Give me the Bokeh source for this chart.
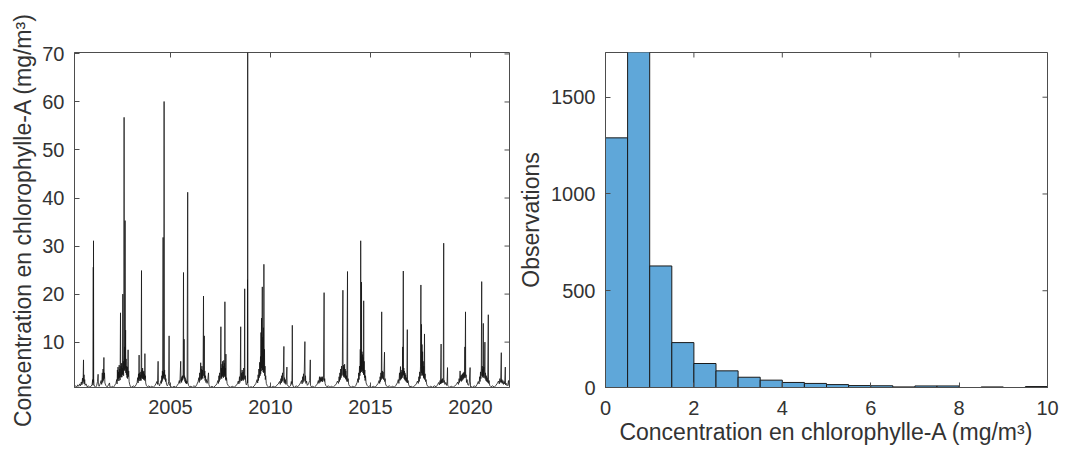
import math
from bokeh.plotting import figure
from bokeh.layouts import row
from bokeh.models import FixedTicker, Range1d
from bokeh.embed import file_html
from bokeh.resources import INLINE

FONT = "Liberation Sans"
TEXT_COLOR = "#333333"
AXIS_COLOR = "#4d4d4d"

# ---------------- time series: (decimal year, chlorophyll-a mg/m3) ----------------
s2000 = [(2000.20,0.7),(2000.26,0.9),(2000.31,0.6),(2000.36,1.1),(2000.41,0.8),(2000.46,1.3),(2000.50,0.9),(2000.54,1.7),(2000.57,1.1),(2000.60,2.5),(2000.62,1.4),(2000.635,3.0),(2000.65,6.3),(2000.66,1.8),(2000.675,3.2),(2000.69,1.3),(2000.71,2.2),(2000.73,1.0),(2000.78,1.3),(2000.83,0.7),(2000.90,0.9),(2000.96,0.6)]
s2001 = [(2001.03,0.8),(2001.08,1.2),(2001.11,2.2),(2001.125,1.0),(2001.14,25.6),(2001.145,1.6),(2001.15,31.1),(2001.16,2.4),(2001.175,1.2),(2001.20,0.8),(2001.26,0.6),(2001.31,1.0),(2001.35,1.8),(2001.38,3.3),(2001.395,1.2),(2001.43,0.8),(2001.48,1.3),(2001.53,2.0),(2001.56,1.2),(2001.59,3.6),(2001.61,1.6),(2001.63,4.4),(2001.645,2.0),(2001.67,6.8),(2001.685,2.4),(2001.70,3.6),(2001.72,1.5),(2001.76,1.0),(2001.82,0.7),(2001.88,0.9),(2001.95,1.5),(2001.97,0.7)]
s2002 = [(2002.03,0.6),(2002.09,0.8),(2002.15,0.6),(2002.21,1.0),(2002.27,1.4),(2002.31,2.2),(2002.33,1.3),(2002.345,4.2),(2002.36,2.0),(2002.375,4.8),(2002.39,2.4),(2002.405,3.8),(2002.42,1.9),(2002.435,5.2),(2002.45,2.6),(2002.465,4.4),(2002.48,2.1),(2002.50,16.1),(2002.51,2.8),(2002.525,5.0),(2002.54,2.7),(2002.555,5.6),(2002.57,2.7),(2002.585,4.6),(2002.60,3.2),(2002.615,20.0),(2002.625,3.4),(2002.64,6.0),(2002.655,3.0),(2002.67,7.5),(2002.68,56.8),(2002.69,4.2),(2002.705,9.0),(2002.72,4.0),(2002.73,35.3),(2002.74,4.5),(2002.755,12.5),(2002.765,3.6),(2002.78,6.5),(2002.795,3.2),(2002.81,5.0),(2002.825,2.6),(2002.84,4.8),(2002.855,2.4),(2002.87,6.0),(2002.88,8.4),(2002.895,2.8),(2002.91,4.0),(2002.93,1.8),(2002.96,1.2),(2002.99,0.8)]
s2003 = [(2003.06,0.6),(2003.13,0.9),(2003.21,0.7),(2003.28,1.1),(2003.33,1.6),(2003.36,2.6),(2003.38,1.5),(2003.40,3.4),(2003.415,2.0),(2003.43,7.3),(2003.44,2.4),(2003.455,3.6),(2003.47,1.9),(2003.485,3.2),(2003.50,2.2),(2003.515,3.8),(2003.53,2.0),(2003.55,24.9),(2003.56,2.6),(2003.575,4.2),(2003.59,2.4),(2003.605,4.6),(2003.62,2.4),(2003.635,3.8),(2003.65,2.2),(2003.665,4.0),(2003.68,2.5),(2003.695,3.4),(2003.71,2.0),(2003.72,7.6),(2003.73,2.4),(2003.745,3.0),(2003.76,1.5),(2003.79,1.0),(2003.85,0.7),(2003.92,0.9),(2003.98,0.6)]
s2004 = [(2004.06,0.8),(2004.14,0.6),(2004.21,0.9),(2004.27,1.3),(2004.32,1.8),(2004.35,1.2),(2004.38,6.0),(2004.395,1.6),(2004.42,1.2),(2004.45,0.9),(2004.49,1.4),(2004.53,2.0),(2004.55,1.4),(2004.565,3.0),(2004.58,1.8),(2004.595,4.0),(2004.61,2.2),(2004.63,31.8),(2004.64,2.6),(2004.655,3.8),(2004.67,2.4),(2004.68,60.1),(2004.69,3.0),(2004.705,4.2),(2004.72,2.2),(2004.735,3.2),(2004.75,1.8),(2004.77,2.4),(2004.80,1.2),(2004.84,0.9),(2004.88,1.2),(2004.91,1.8),(2004.93,11.3),(2004.94,1.4),(2004.97,0.9)]
s2005 = [(2005.03,0.7),(2005.10,0.6),(2005.18,0.8),(2005.26,0.6),(2005.34,1.0),(2005.40,1.4),(2005.44,2.0),(2005.47,1.4),(2005.51,6.0),(2005.525,1.8),(2005.54,2.4),(2005.555,1.6),(2005.57,2.8),(2005.585,2.0),(2005.60,3.0),(2005.615,2.2),(2005.63,2.8),(2005.65,24.5),(2005.66,2.6),(2005.67,3.2),(2005.68,10.6),(2005.69,2.4),(2005.705,3.0),(2005.72,1.8),(2005.735,2.6),(2005.75,1.5),(2005.77,2.2),(2005.79,1.3),(2005.81,1.9),(2005.83,1.4),(2005.86,41.2),(2005.87,1.6),(2005.90,1.0),(2005.95,0.7)]
s2006 = [(2006.02,0.8),(2006.09,0.6),(2006.17,0.9),(2006.25,0.7),(2006.32,1.2),(2006.38,1.8),(2006.42,2.6),(2006.44,1.6),(2006.46,3.6),(2006.48,2.0),(2006.51,5.7),(2006.525,2.4),(2006.54,4.4),(2006.555,2.2),(2006.57,5.0),(2006.585,2.6),(2006.60,4.2),(2006.615,2.4),(2006.63,5.2),(2006.65,19.6),(2006.66,3.0),(2006.675,5.2),(2006.69,11.3),(2006.70,2.6),(2006.715,4.0),(2006.73,2.0),(2006.75,3.0),(2006.77,1.6),(2006.80,2.2),(2006.83,1.4),(2006.86,2.0),(2006.90,3.6),(2006.92,1.2),(2006.95,0.8),(2006.99,0.6)]
s2007 = [(2007.07,0.8),(2007.15,0.6),(2007.24,0.9),(2007.32,1.3),(2007.37,2.0),(2007.40,1.4),(2007.42,3.0),(2007.44,1.8),(2007.46,3.6),(2007.48,2.2),(2007.50,4.4),(2007.52,13.2),(2007.53,2.6),(2007.545,4.6),(2007.56,2.4),(2007.575,5.4),(2007.59,2.8),(2007.605,6.0),(2007.62,3.0),(2007.635,5.0),(2007.65,2.6),(2007.665,6.2),(2007.68,3.2),(2007.695,5.6),(2007.71,2.8),(2007.72,18.4),(2007.73,3.0),(2007.745,4.6),(2007.76,2.2),(2007.77,7.5),(2007.78,2.0),(2007.80,2.6),(2007.83,1.4),(2007.88,1.0),(2007.94,0.7)]
s2008 = [(2008.01,0.6),(2008.09,0.8),(2008.18,0.6),(2008.27,0.9),(2008.34,1.3),(2008.39,1.9),(2008.42,1.3),(2008.45,2.8),(2008.47,1.6),(2008.49,3.4),(2008.51,13.2),(2008.52,2.0),(2008.54,3.6),(2008.56,1.9),(2008.58,4.2),(2008.60,2.2),(2008.62,3.8),(2008.64,2.0),(2008.66,4.6),(2008.68,2.4),(2008.695,3.6),(2008.71,21.1),(2008.72,2.2),(2008.74,3.0),(2008.76,1.6),(2008.79,1.1),(2008.82,1.4),(2008.845,2.2),(2008.85,23.0),(2008.855,1.5),(2008.86,70.3),(2008.865,1.4),(2008.89,0.8),(2008.95,0.6)]
s2009 = [(2009.03,0.7),(2009.11,0.6),(2009.19,0.9),(2009.27,1.4),(2009.33,2.2),(2009.36,1.5),(2009.38,3.2),(2009.40,2.0),(2009.42,4.4),(2009.44,2.6),(2009.46,5.8),(2009.48,3.0),(2009.50,7.0),(2009.51,3.4),(2009.525,12.0),(2009.535,4.0),(2009.55,15.0),(2009.56,4.6),(2009.575,9.0),(2009.59,21.5),(2009.60,4.2),(2009.615,11.0),(2009.63,3.8),(2009.645,13.0),(2009.66,3.6),(2009.67,26.2),(2009.68,3.8),(2009.70,8.5),(2009.71,3.0),(2009.725,5.0),(2009.74,2.2),(2009.76,3.0),(2009.79,1.4),(2009.84,0.9),(2009.91,0.6),(2009.97,0.8)]
s2010 = [(2010.05,0.6),(2010.14,0.8),(2010.23,0.6),(2010.31,1.0),(2010.39,1.3),(2010.45,1.8),(2010.49,1.2),(2010.52,2.4),(2010.54,1.5),(2010.56,3.0),(2010.58,1.8),(2010.60,3.6),(2010.62,2.0),(2010.64,3.2),(2010.67,9.1),(2010.68,1.6),(2010.70,2.6),(2010.72,1.4),(2010.74,2.2),(2010.77,1.2),(2010.79,2.0),(2010.82,4.8),(2010.83,1.2),(2010.87,0.9),(2010.94,0.7),(2011.00,0.9),(2011.04,1.8),(2011.07,1.2),(2011.085,6.5),(2011.09,13.5),(2011.10,1.4),(2011.13,0.8)]
s2011 = [(2011.20,0.6),(2011.28,0.9),(2011.36,0.7),(2011.44,1.1),(2011.50,1.5),(2011.55,2.0),(2011.58,1.3),(2011.61,2.8),(2011.63,1.6),(2011.65,3.4),(2011.67,2.0),(2011.69,4.2),(2011.72,10.1),(2011.73,1.8),(2011.75,3.0),(2011.77,1.4),(2011.80,1.9),(2011.84,1.0),(2011.90,1.3),(2011.96,2.0),(2011.99,6.3),(2012.00,1.0),(2012.04,0.7)]
s2012 = [(2012.11,0.8),(2012.19,0.6),(2012.27,0.9),(2012.34,1.3),(2012.39,2.0),(2012.42,1.4),(2012.45,2.8),(2012.47,1.6),(2012.49,2.6),(2012.51,1.8),(2012.53,2.8),(2012.55,1.9),(2012.57,2.6),(2012.59,1.7),(2012.61,2.8),(2012.63,2.0),(2012.65,2.6),(2012.68,20.3),(2012.69,1.8),(2012.71,2.4),(2012.73,1.4),(2012.76,1.0),(2012.82,0.7),(2012.90,0.9),(2012.97,0.6)]
s2013 = [(2013.05,0.8),(2013.13,0.6),(2013.21,0.9),(2013.29,1.3),(2013.35,1.9),(2013.40,1.4),(2013.43,2.8),(2013.45,1.8),(2013.47,3.6),(2013.49,2.2),(2013.51,4.4),(2013.53,2.6),(2013.55,5.0),(2013.57,3.0),(2013.59,4.6),(2013.62,20.8),(2013.63,3.2),(2013.645,5.2),(2013.66,2.8),(2013.675,4.8),(2013.69,2.6),(2013.705,5.4),(2013.72,3.0),(2013.735,4.4),(2013.75,2.4),(2013.765,4.0),(2013.78,2.2),(2013.80,3.0),(2013.82,1.8),(2013.85,24.7),(2013.86,1.8),(2013.88,2.4),(2013.91,1.2),(2013.96,0.8)]
s2014 = [(2014.03,0.6),(2014.11,0.8),(2014.19,0.6),(2014.27,1.0),(2014.33,1.6),(2014.37,2.4),(2014.39,1.6),(2014.41,3.6),(2014.43,2.2),(2014.45,5.0),(2014.47,3.0),(2014.49,8.5),(2014.50,3.6),(2014.51,31.1),(2014.52,4.2),(2014.535,7.0),(2014.545,3.8),(2014.55,22.5),(2014.56,4.4),(2014.575,8.0),(2014.59,4.0),(2014.605,7.4),(2014.62,3.6),(2014.635,6.8),(2014.65,3.2),(2014.66,18.6),(2014.67,3.4),(2014.685,6.0),(2014.70,2.6),(2014.715,4.2),(2014.73,2.0),(2014.75,3.0),(2014.78,1.5),(2014.83,1.0),(2014.90,0.7),(2014.97,0.9)]
s2015 = [(2015.05,0.6),(2015.14,0.8),(2015.23,0.6),(2015.31,1.0),(2015.38,1.4),(2015.43,2.0),(2015.46,1.4),(2015.48,2.8),(2015.50,1.8),(2015.52,3.6),(2015.54,2.2),(2015.56,16.3),(2015.57,2.6),(2015.59,4.0),(2015.61,2.4),(2015.63,3.8),(2015.65,2.2),(2015.67,3.2),(2015.70,7.9),(2015.71,1.8),(2015.73,2.4),(2015.75,1.3),(2015.79,0.9),(2015.86,0.7),(2015.94,0.9)]
s2016 = [(2016.02,0.6),(2016.10,0.8),(2016.19,0.6),(2016.27,1.0),(2016.34,1.5),(2016.39,2.2),(2016.42,1.4),(2016.45,3.6),(2016.47,2.0),(2016.50,4.9),(2016.51,2.2),(2016.53,3.8),(2016.55,2.4),(2016.57,4.2),(2016.59,2.6),(2016.61,9.0),(2016.62,3.0),(2016.64,24.8),(2016.65,3.2),(2016.665,4.6),(2016.68,2.4),(2016.695,4.0),(2016.71,2.2),(2016.725,3.6),(2016.74,2.0),(2016.76,3.2),(2016.78,1.8),(2016.80,2.6),(2016.82,1.6),(2016.84,12.6),(2016.85,1.5),(2016.88,2.0),(2016.91,1.1),(2016.96,0.7)]
s2017 = [(2017.04,0.8),(2017.12,0.6),(2017.21,0.9),(2017.29,1.3),(2017.35,1.9),(2017.39,1.4),(2017.42,2.8),(2017.44,1.8),(2017.46,3.8),(2017.48,2.4),(2017.50,5.0),(2017.52,21.9),(2017.53,3.0),(2017.55,13.7),(2017.56,3.6),(2017.575,9.5),(2017.59,3.2),(2017.605,8.0),(2017.62,3.0),(2017.635,6.0),(2017.65,2.6),(2017.665,5.0),(2017.68,2.4),(2017.70,11.7),(2017.71,2.2),(2017.73,3.4),(2017.75,1.8),(2017.78,2.2),(2017.81,1.2),(2017.86,0.8),(2017.93,0.6)]
s2018 = [(2018.01,0.8),(2018.10,0.6),(2018.19,0.9),(2018.28,0.7),(2018.35,1.1),(2018.41,1.6),(2018.45,1.1),(2018.48,2.0),(2018.50,1.3),(2018.53,9.6),(2018.54,1.4),(2018.56,2.2),(2018.58,1.5),(2018.60,2.4),(2018.62,1.6),(2018.64,2.2),(2018.66,30.6),(2018.67,1.6),(2018.69,2.0),(2018.72,1.2),(2018.76,1.6),(2018.80,1.0),(2018.83,1.8),(2018.85,4.7),(2018.86,1.0),(2018.90,0.8),(2018.96,0.6)]
s2019 = [(2019.04,0.8),(2019.13,0.6),(2019.22,0.9),(2019.30,1.2),(2019.36,1.7),(2019.40,1.2),(2019.43,2.4),(2019.45,1.6),(2019.48,4.0),(2019.50,2.0),(2019.52,3.0),(2019.54,1.8),(2019.56,3.2),(2019.58,2.0),(2019.60,3.4),(2019.62,2.2),(2019.64,3.6),(2019.66,2.4),(2019.68,3.8),(2019.70,2.6),(2019.72,9.0),(2019.73,3.0),(2019.75,16.3),(2019.76,2.6),(2019.78,3.2),(2019.80,1.6),(2019.83,2.2),(2019.86,1.2),(2019.90,1.0),(2019.94,1.6),(2019.98,4.7),(2019.99,1.0),(2020.03,0.7)]
s2020 = [(2020.10,0.6),(2020.18,0.9),(2020.26,0.7),(2020.33,1.2),(2020.39,1.8),(2020.43,1.3),(2020.46,2.8),(2020.48,1.8),(2020.50,3.8),(2020.52,2.4),(2020.54,4.6),(2020.56,22.6),(2020.57,3.0),(2020.585,5.0),(2020.60,2.8),(2020.615,4.4),(2020.63,2.6),(2020.64,13.9),(2020.65,3.0),(2020.665,4.8),(2020.68,2.6),(2020.70,4.2),(2020.72,10.0),(2020.73,2.4),(2020.75,3.6),(2020.77,2.0),(2020.79,3.0),(2020.81,1.8),(2020.83,2.6),(2020.86,1.6),(2020.89,15.7),(2020.90,1.4),(2020.93,2.0),(2020.96,1.0)]
s2021 = [(2021.03,0.7),(2021.11,0.9),(2021.19,0.6),(2021.27,1.0),(2021.34,1.4),(2021.40,1.9),(2021.44,1.3),(2021.47,2.4),(2021.49,1.6),(2021.51,2.2),(2021.54,7.8),(2021.55,1.6),(2021.57,2.2),(2021.59,1.4),(2021.62,2.0),(2021.65,1.2),(2021.68,1.8),(2021.71,1.3),(2021.74,4.8),(2021.75,1.1),(2021.79,1.4),(2021.83,0.9),(2021.87,1.2),(2021.90,2.0),(2021.92,1.0),(2021.95,0.8)]

seasons = [s2000, s2001, s2002, s2003, s2004, s2005, s2006, s2007, s2008, s2009, s2010,
           s2011, s2012, s2013, s2014, s2015, s2016, s2017, s2018, s2019, s2020, s2021]

year_ticks = [2005, 2010, 2015, 2020]
chl_ticks = [10, 20, 30, 40, 50, 60, 70]

# ---------------- histogram ----------------
bin_edges = [0, 0.5, 1, 1.5, 2, 2.5, 3, 3.5, 4, 4.5, 5, 5.5, 6, 6.5, 7, 7.5, 8, 8.5, 9, 9.5, 10]
bin_counts = [1290, 1750, 628, 232, 124, 86, 53, 38, 26, 21, 15, 10, 9, 3, 8, 8, 0, 3, 0, 5]
hist_x_ticks = [0, 2, 4, 6, 8, 10]
hist_y_ticks = [0, 500, 1000, 1500]

YLABEL = "Concentration en chlorophylle-A (mg/m\u00b3)"


def style_axis(ax):
    ax.major_tick_in = 5
    ax.major_tick_out = 0
    ax.minor_tick_line_color = None
    ax.axis_line_color = AXIS_COLOR
    ax.major_tick_line_color = AXIS_COLOR
    ax.axis_line_width = 1
    ax.major_label_text_font = FONT
    ax.major_label_text_color = TEXT_COLOR
    ax.major_label_text_font_size = "20px"
    ax.axis_label_text_font = FONT
    ax.axis_label_text_font_style = "normal"
    ax.axis_label_text_color = TEXT_COLOR
    ax.axis_label_text_font_size = "23px"


def mirror_ticks(p, xt, yt, xr, yr):
    # inward tick marks on the top and right edges of the box (clipped to the frame)
    p.scatter(x=xt, y=[yr.end] * len(xt), marker="dash", size=10, angle=math.pi / 2,
              line_color=AXIS_COLOR, line_width=1)
    p.scatter(x=[xr.end] * len(yt), y=yt, marker="dash", size=10, angle=0,
              line_color=AXIS_COLOR, line_width=1)


# ---------------- left: time series ----------------
t_vals = [pt[0] for s in seasons for pt in s]
c_vals = [pt[1] for s in seasons for pt in s]

xr1 = Range1d(2000.2, 2021.95)
yr1 = Range1d(0.55, 70.3)
p1 = figure(width=515, height=462, output_backend="svg", toolbar_location=None,
            x_range=xr1, y_range=yr1,
            min_border_left=74, min_border_right=6, min_border_top=44, min_border_bottom=73)
p1.line(t_vals, c_vals, line_color="#151515", line_width=0.8)
p1.xaxis.ticker = FixedTicker(ticks=year_ticks)
p1.yaxis.ticker = FixedTicker(ticks=chl_ticks)
for ax in p1.xaxis + p1.yaxis:
    style_axis(ax)
p1.xaxis.major_label_standoff = 12
p1.yaxis.major_label_standoff = 10
p1.yaxis.axis_label = YLABEL
p1.yaxis.axis_label_standoff = 3
mirror_ticks(p1, year_ticks, chl_ticks, xr1, yr1)
p1.grid.visible = False
p1.outline_line_color = AXIS_COLOR
p1.background_fill_color = "white"
p1.border_fill_color = "white"

# ---------------- right: histogram ----------------
xr2 = Range1d(0, 10)
yr2 = Range1d(0, 1731)
p2 = figure(width=550, height=462, output_backend="svg", toolbar_location=None,
            x_range=xr2, y_range=yr2,
            min_border_left=87, min_border_right=18, min_border_top=52, min_border_bottom=75)
p2.quad(left=bin_edges[:-1], right=bin_edges[1:], top=bin_counts, bottom=0,
        fill_color="#5fa7d9", line_color="#1a1a1a", line_width=1)
p2.xaxis.ticker = FixedTicker(ticks=hist_x_ticks)
p2.yaxis.ticker = FixedTicker(ticks=hist_y_ticks)
for ax in p2.xaxis + p2.yaxis:
    style_axis(ax)
p2.xaxis.major_label_standoff = 13
p2.yaxis.major_label_standoff = 10
p2.xaxis.axis_label = YLABEL
p2.xaxis.axis_label_standoff = 1
p2.yaxis.axis_label = "Observations"
p2.yaxis.axis_label_standoff = 4
mirror_ticks(p2, hist_x_ticks, hist_y_ticks, xr2, yr2)
p2.grid.visible = False
p2.outline_line_color = AXIS_COLOR
p2.background_fill_color = "white"
p2.border_fill_color = "white"

layout = row(p1, p2)
open("out.html", "w").write(file_html(layout, INLINE))
